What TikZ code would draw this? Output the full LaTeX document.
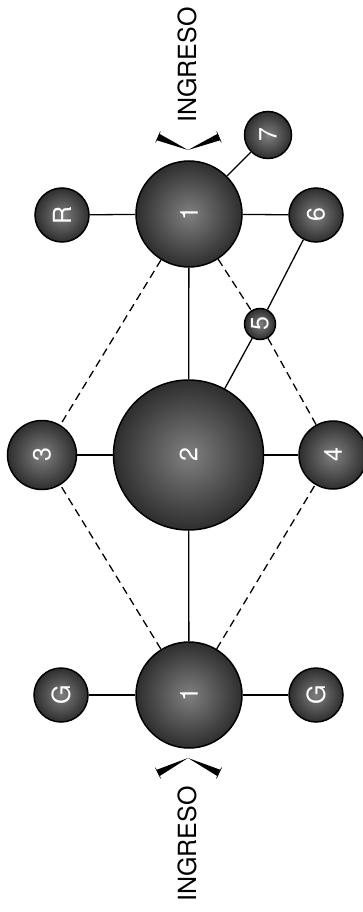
\documentclass[tikz,border=0pt]{standalone}
\usepackage{fontspec}
\setmainfont{TeX Gyre Heros}
\usetikzlibrary{calc}
\newcommand{\rotulo}{\fontsize{25}{30}\selectfont}
% brazo de la flecha de ingreso: vertice, extremo
\newcommand{\brazo}[2]{%
  \fill ($(#2)!3.5pt!90:(#1)$) -- (#1) -- ($(#2)!3.5pt!-90:(#1)$) -- cycle;
  \draw[line width=0.6pt] ($(#2)!6pt!90:(#1)$) -- ($(#2)!6pt!-90:(#1)$);}
\tikzset{
  nodo/.style={circle, draw=black, line width=1.5pt, inner sep=0pt,
    shading=radial, inner color=black!50, outer color=black!82,
    text=white, font=\rotulo, rotate=90},
  enlace/.style={line width=1.3pt},
  punteado/.style={line width=1.3pt, dash pattern=on 8pt off 5pt},
}

\begin{document}
\begin{tikzpicture}[x=1pt,y=-1pt]
 \useasboundingbox (0,0) rectangle (362,912);
 % nodos
 \node[nodo,minimum size=106pt] (n1a) at (189,214) {1};
 \node[nodo,minimum size=106pt] (n1b) at (189,695) {1};
 \node[nodo,minimum size=150pt] (n2) at (188.5,455) {2};
 \node[nodo,minimum size=69pt] (n3) at (42,455) {3};
 \node[nodo,minimum size=68pt] (n4) at (333,455) {4};
 \node[nodo,minimum size=31pt] (n5) at (260,324) {5};
 \node[nodo,minimum size=54pt] (n6) at (316,215) {6};
 \node[nodo,minimum size=47pt] (n7) at (268,135) {7};
 \node[nodo,minimum size=54pt] (nR) at (62,215) {R};
 \node[nodo,minimum size=54pt] (nG1) at (61,695) {G};
 \node[nodo,minimum size=54pt] (nG2) at (316,695) {G};
 % enlaces
 \draw[enlace] (n1a) -- (nR);
 \draw[enlace] (n1a) -- (n6);
 \draw[enlace] (n1a) -- (n7);
 \draw[enlace] (n1a) -- (n2);
 \draw[enlace] (n2) -- (n3);
 \draw[enlace] (n2) -- (n4);
 \draw[enlace] (n2) -- (n5);
 \draw[enlace] (n5) -- (n6);
 \draw[enlace] (n1b) -- (n2);
 \draw[enlace] (n1b) -- (nG1);
 \draw[enlace] (n1b) -- (nG2);
 \draw[punteado] (n1a) -- (n3);
 \draw[punteado] (n1a) -- (n5);
 \draw[punteado] (n5) -- (n4);
 \draw[punteado] (n1b) -- (n3);
 \draw[punteado] (n1b) -- (n4);
 % ingresos
 \node[rotate=90,font=\rotulo,inner sep=0pt] (ingA) at (187,65) {INGRESO};
 \node[rotate=90,font=\rotulo,inner sep=0pt] (ingB) at (187,844) {INGRESO};
 \coordinate (vA) at (188,150);
 \coordinate (vAl) at (158,137);
 \coordinate (vAr) at (219,137);
 \coordinate (vB) at (188,758);
 \coordinate (vBl) at (158,773);
 \coordinate (vBr) at (219,773);
 \brazo{vA}{vAl} \brazo{vA}{vAr}
 \brazo{vB}{vBl} \brazo{vB}{vBr}
\end{tikzpicture}
\end{document}
